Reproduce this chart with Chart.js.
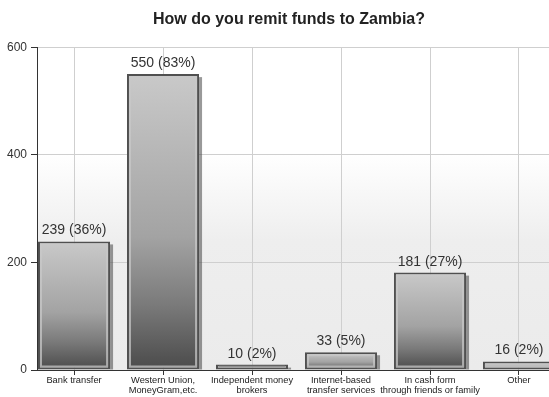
<!DOCTYPE html>
<html>
<head>
<meta charset="utf-8">
<script src="https://cdn.jsdelivr.net/npm/chart.js@4/dist/chart.umd.min.js"></script>
<style>
  html, body { margin: 0; padding: 0; background: #fff; overflow: hidden; }
  #wrap { width: 578px; height: 397px; }
</style>
</head>
<body>
<div id="wrap"><canvas id="c" width="578" height="397"></canvas></div>
<script>
// Survey answers: how remittances are sent
const categories = [
  ["Bank transfer"],
  ["Western Union,", "MoneyGram,etc."],
  ["Independent money", "brokers"],
  ["Internet-based", "transfer services"],
  ["In cash form", "through friends or family"],
  ["Other"]
];
const counts = [239, 550, 10, 33, 181, 16];
const percents = [36, 83, 2, 5, 27, 2];
const yTicks = [0, 200, 400, 600];

const FONT = "'Liberation Sans', Arial, sans-serif";

// light plot background that greys toward the baseline
const plotBackground = {
  id: 'plotBackground',
  beforeDraw(chart) {
    const { ctx, chartArea: a } = chart;
    const g = ctx.createLinearGradient(0, a.top, 0, a.bottom);
    g.addColorStop(0, '#ffffff');
    g.addColorStop(0.33, '#ffffff');
    g.addColorStop(0.6, '#eeeeee');
    g.addColorStop(1, '#ebebeb');
    ctx.save();
    ctx.fillStyle = g;
    ctx.fillRect(a.left, a.top, a.right - a.left, a.bottom - a.top);
    ctx.restore();
  }
};

// drop shadow behind each bar, inner highlight ring and value labels
const barDecor = {
  id: 'barDecor',
  beforeDatasetsDraw(chart) {
    const { ctx } = chart;
    const meta = chart.getDatasetMeta(0);
    ctx.save();
    meta.data.forEach(bar => {
      const p = bar.getProps(['x', 'y', 'base', 'width'], true);
      const right = p.x + p.width / 2;
      ctx.fillStyle = 'rgba(70,70,70,0.55)';
      ctx.fillRect(right, p.y + 3, 3, p.base - p.y - 3);
    });
    ctx.restore();
  },
  afterDatasetsDraw(chart) {
    const { ctx } = chart;
    const meta = chart.getDatasetMeta(0);
    ctx.save();
    meta.data.forEach((bar, i) => {
      const p = bar.getProps(['x', 'y', 'base', 'width'], true);
      const left = p.x - p.width / 2;
      const h = p.base - p.y;
      if (h > 7) {
        ctx.strokeStyle = 'rgba(200,200,200,0.75)';
        ctx.lineWidth = 2;
        ctx.strokeRect(left + 3, p.y + 3, p.width - 6, h - 6);
      } else {
        ctx.strokeStyle = 'rgba(120,120,120,0.9)';
        ctx.lineWidth = 1;
        ctx.beginPath();
        ctx.moveTo(left + 3, p.base - 3.5);
        ctx.lineTo(left + p.width - 3, p.base - 3.5);
        ctx.stroke();
      }
      ctx.fillStyle = '#333';
      ctx.font = '14px ' + FONT;
      ctx.textAlign = 'center';
      ctx.textBaseline = 'alphabetic';
      ctx.fillText(counts[i] + ' (' + percents[i] + '%)', p.x, p.y - 7);
    });
    ctx.restore();
  }
};

function barGradient(context) {
  const chart = context.chart;
  if (!chart.chartArea || context.parsed == null) return '#999';
  const ys = chart.scales.y;
  const top = ys.getPixelForValue(context.parsed.y);
  const base = ys.getPixelForValue(0);
  const g = chart.ctx.createLinearGradient(0, top, 0, base);
  g.addColorStop(0, '#c9c9c9');
  g.addColorStop(0.55, '#a3a3a3');
  g.addColorStop(0.78, '#7a7a7a');
  g.addColorStop(1, '#4a4a4a');
  return g;
}

new Chart(document.getElementById('c'), {
  type: 'bar',
  data: {
    datasets: [{
      data: counts.map((v, i) => ({ x: i, y: v })),
      backgroundColor: barGradient,
      borderColor: '#505050',
      borderWidth: 2,
      borderSkipped: false,
      barPercentage: 0.81,
      categoryPercentage: 1,
      clip: false
    }]
  },
  options: {
    responsive: false,
    animation: false,
    layout: { padding: 0 },
    plugins: {
      legend: { display: false },
      tooltip: { enabled: false },
      title: {
        display: true,
        text: 'How do you remit funds to Zambia?',
        color: '#222',
        font: { family: FONT, size: 16, weight: 'bold' },
        padding: { top: 10, bottom: 18 }
      }
    },
    scales: {
      x: {
        type: 'linear',
        offset: false,
        min: -0.416,
        max: 5.663,
        afterFit(s) { s.height = 27; },
        afterBuildTicks(s) { s.ticks = categories.map((_, i) => ({ value: i })); },
        ticks: {
          autoSkip: false,
          maxRotation: 0,
          padding: 0,
          color: '#222',
          font: { family: FONT, size: 9.3, lineHeight: 1.1 },
          callback: v => categories[v]
        },
        grid: { offset: false, color: '#cfcfcf', tickColor: '#333', tickLength: 5 },
        border: { color: '#333', width: 1 }
      },
      y: {
        min: 0,
        max: 600,
        afterFit(s) { s.width = 37; },
        afterBuildTicks(s) { s.ticks = yTicks.map(v => ({ value: v })); },
        ticks: {
          padding: 4,
          color: '#333',
          font: { family: FONT, size: 12 }
        },
        grid: { color: '#cfcfcf', tickColor: '#333', tickLength: 6 },
        border: { color: '#333', width: 1 }
      }
    }
  },
  plugins: [plotBackground, barDecor]
});
</script>
</body>
</html>
